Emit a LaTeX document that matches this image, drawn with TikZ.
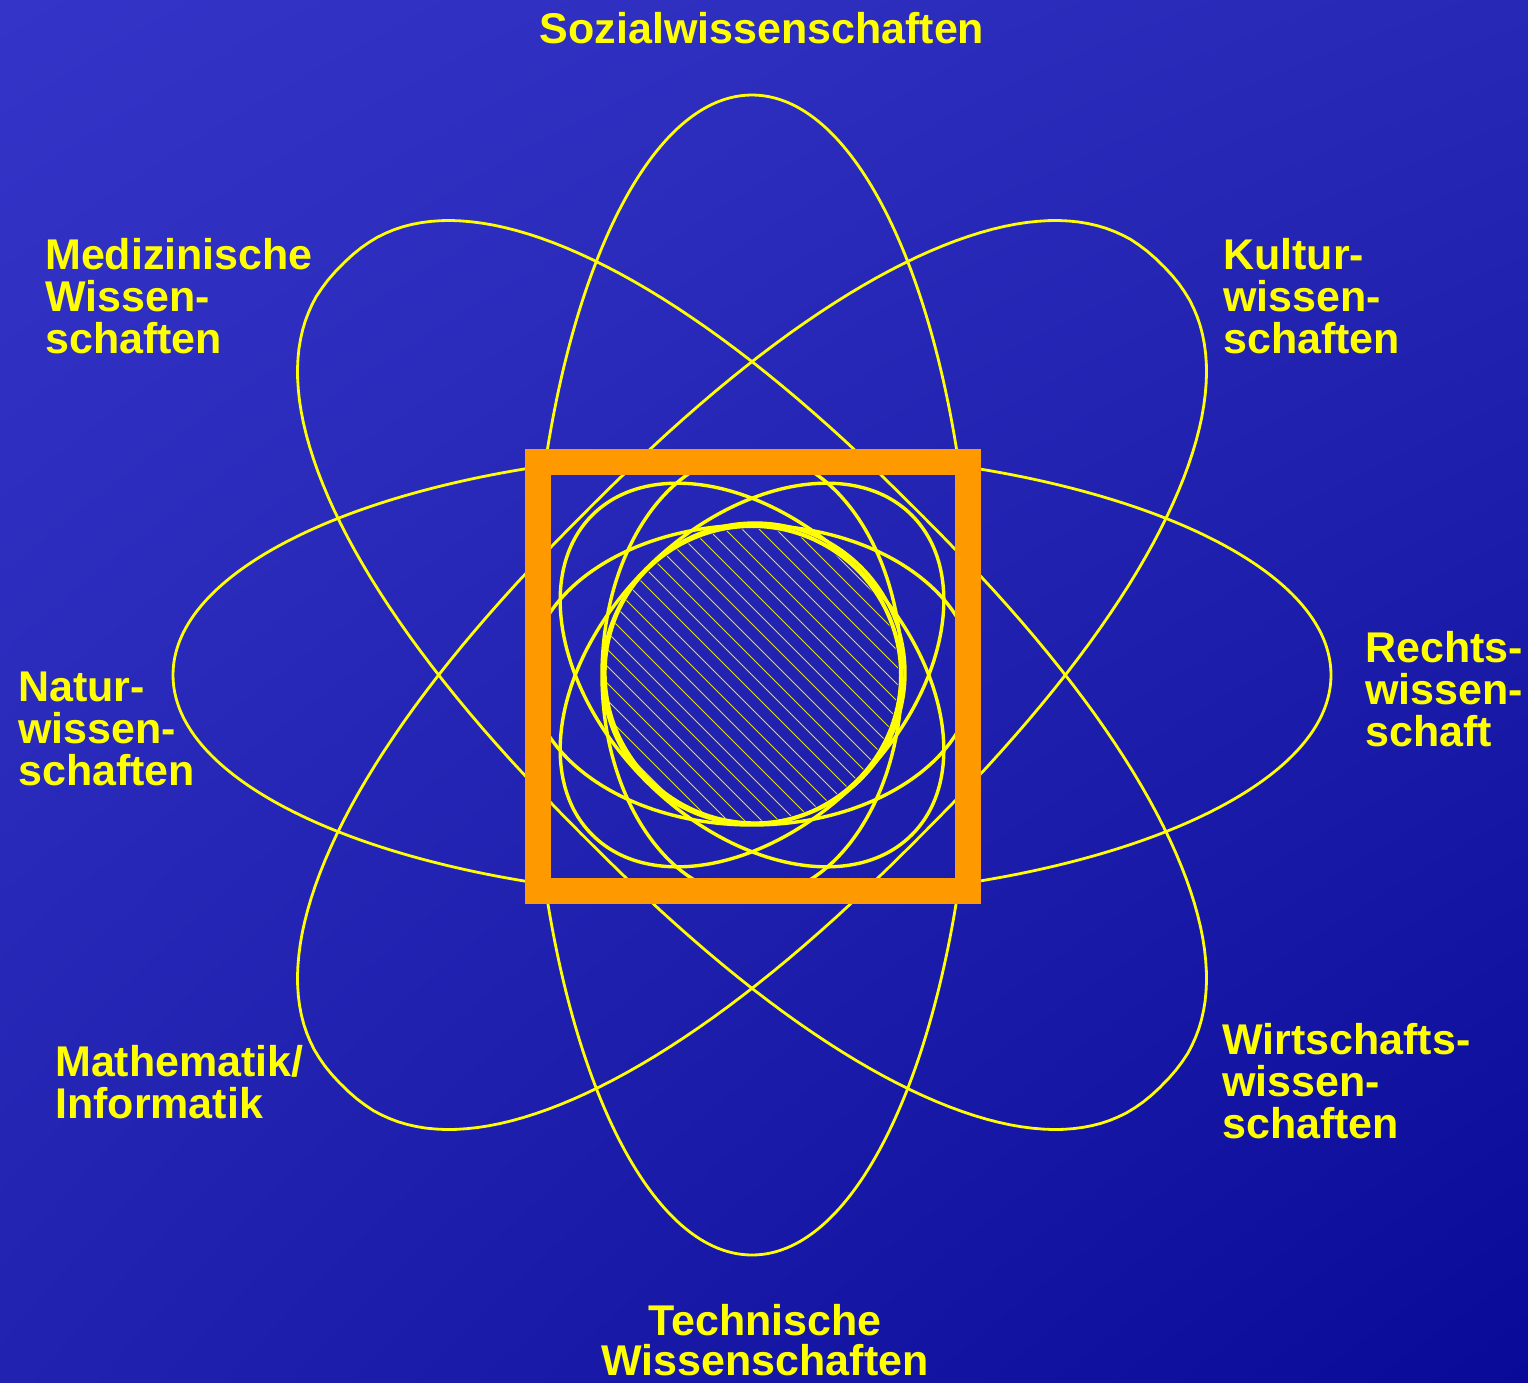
\documentclass[tikz,border=0pt]{standalone}
\usepackage{fontspec}
\setmainfont{Liberation Sans}
\usetikzlibrary{shadings,calc}
\definecolor{bgTL}{HTML}{3434C8}
\definecolor{bgTR}{HTML}{2828B6}
\definecolor{bgBL}{HTML}{2222B0}
\definecolor{bgBR}{HTML}{0A0A98}
\definecolor{ylw}{HTML}{FFFF00}
\definecolor{org}{HTML}{FF9900}
\tikzset{
  orbit/.style={draw=ylw, line width=2.8pt},
  inner/.style={draw=ylw, line width=3.4pt},
  core/.style={draw=ylw, line width=4pt},
  hatchline/.style={draw=ylw!85!bgTL, line width=1pt},
  frame/.style={draw=org, line width=26pt, line join=miter},
  lbl/.style={text=ylw, font=\fontsize{43}{42}\selectfont\bfseries, inner sep=0pt, align=left},
  lblc/.style={text=ylw, font=\fontsize{43}{40}\selectfont\bfseries, inner sep=0pt, align=center}
}
\begin{document}
\begin{tikzpicture}[x=1pt,y=-1pt]
\shade[upper left=bgTL, upper right=bgTR, lower left=bgBL, lower right=bgBR] (0,0) rectangle (1528,1382);
\useasboundingbox (0,0) rectangle (1528,1382);
\coordinate (c) at (752,675);
% hatched core
\begin{scope}
  \clip (c) circle[radius=146];
  \foreach \d in {-408,-391,...,408} \draw[hatchline] ($(c)+(\d-220,-220)$) -- ($(c)+(\d+220,220)$);
\end{scope}
% big orbits
\draw[orbit] (c) ellipse[x radius=222, y radius=580];
\draw[orbit] (c) ellipse[x radius=579, y radius=224];
\foreach \ang in {45,-45}
  \draw[orbit, rotate around={\ang:(c)}]
    plot[domain=0.5:358.5, samples=180]
      ({752+580*sign(cos(\x))*pow(abs(cos(\x)),0.8696)}, {675+233*sign(sin(\x))*pow(abs(sin(\x)),0.8696)}) -- cycle;
% small orbits
\draw[inner] (c) ellipse[x radius=150, y radius=222];
\draw[inner] (c) ellipse[x radius=222, y radius=150];
\draw[inner, rotate around={45:(c)}] (c) ellipse[x radius=226, y radius=150];
\draw[inner, rotate around={-45:(c)}] (c) ellipse[x radius=226, y radius=150];
\draw[core] (c) circle[radius=149];
\draw[inner] ($(c)+(3,-2)$) circle[radius=150];
% frame
\draw[frame] (538,462) rectangle (968,891);
% labels (anchor = baseline of the last line)
\node[lblc, anchor=base] (soz) at (762,43) {Sozialwissenschaften};
\node[lbl, anchor=base west] (med) at (45,353) {Medizinische\\Wissen-\\schaften};
\node[lbl, anchor=base west] (kul) at (1223,353) {Kultur-\\wissen-\\schaften};
\node[lbl, anchor=base west] (rec) at (1365,746) {Rechts-\\wissen-\\schaft};
\node[lbl, anchor=base west] (nat) at (18,785) {Natur-\\wissen-\\schaften};
\node[lbl, anchor=base west] (mat) at (55,1118) {Mathematik/\\Informatik};
\node[lbl, anchor=base west] (wir) at (1222,1138) {Wirtschafts-\\wissen-\\schaften};
\node[lblc, anchor=base] (tec) at (765,1375) {Technische\\Wissenschaften};
\end{tikzpicture}
\end{document}
